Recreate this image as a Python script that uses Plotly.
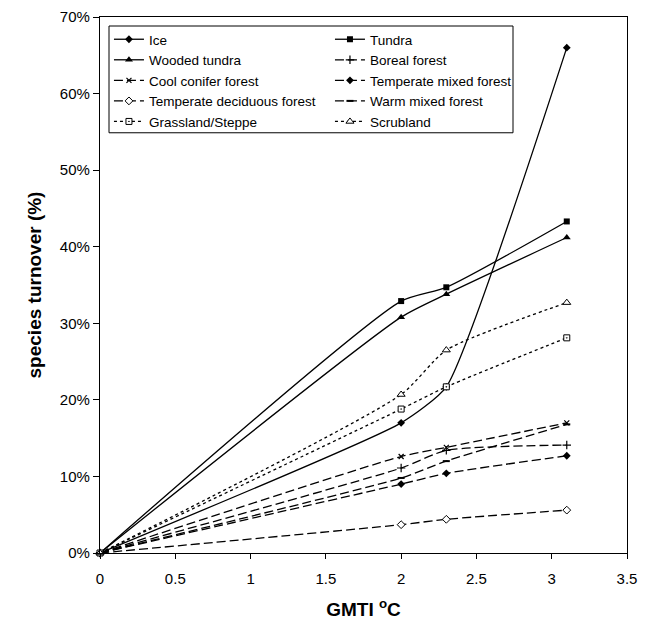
import plotly.graph_objects as go

x_vals = [0, 2, 2.3, 3.1]

series_names = ["Ice", "Tundra", "Wooded tundra", "Boreal forest",
                "Cool conifer forest", "Temperate mixed forest",
                "Temperate deciduous forest", "Warm mixed forest",
                "Grassland/Steppe", "Scrubland"]

ice = [0, 17.0, 21.7, 66.0]
tundra = [0, 32.9, 34.7, 43.3]
wooded_tundra = [0, 30.8, 33.8, 41.2]
boreal_forest = [0, 11.1, 13.4, 14.1]
cool_conifer_forest = [0, 12.6, 13.8, 17.0]
temperate_mixed_forest = [0, 9.0, 10.4, 12.7]
temperate_deciduous_forest = [0, 3.7, 4.4, 5.6]
warm_mixed_forest = [0, 9.8, 12.0, 16.8]
grassland_steppe = [0, 18.8, 21.7, 28.1]
scrubland = [0, 20.7, 26.5, 32.7]

values = [ice, tundra, wooded_tundra, boreal_forest, cool_conifer_forest,
          temperate_mixed_forest, temperate_deciduous_forest, warm_mixed_forest,
          grassland_steppe, scrubland]

LONG = "9px,4px"
DOT = "3px,3px"
styles = [
    dict(dash="solid", symbol="diamond", size=6, fill="black", lw=0, sm=0.5),
    dict(dash="solid", symbol="square", size=6, fill="black", lw=0, sm=0.6),
    dict(dash="solid", symbol="triangle-up", size=7, fill="black", lw=0, sm=0.6),
    dict(dash=LONG, symbol="cross-thin", size=6, fill="black", lw=1.2, sm=0.6),
    dict(dash=LONG, symbol="x-thin", size=5, fill="black", lw=1.2, sm=0.6),
    dict(dash=LONG, symbol="diamond", size=6, fill="black", lw=0, sm=0.6),
    dict(dash=LONG, symbol="diamond", size=6, fill="white", lw=1, sm=0.6),
    dict(dash=LONG, symbol="line-ew", size=5, fill="black", lw=2, sm=0.6),
    dict(dash=DOT, symbol="square-dot", size=6, fill="white", lw=1, sm=0.6),
    dict(dash=DOT, symbol="triangle-up", size=7, fill="white", lw=1, sm=0.6),
]

fig = go.Figure()
for name, ys, st in zip(series_names, values, styles):
    fig.add_trace(go.Scatter(
        x=x_vals, y=ys, name=name, mode="lines+markers",
        line=dict(color="black", width=1.3, dash=st["dash"], shape="spline", smoothing=st["sm"]),
        marker=dict(symbol=st["symbol"], size=st["size"], color=st["fill"],
                    line=dict(color="black", width=st["lw"])),
        cliponaxis=False,
    ))

font_family = "Liberation Sans, Arial, sans-serif"

# legend frame drawn as a shape (paper coordinates)
fig.add_shape(type="rect", xref="paper", yref="paper",
              x0=0.0171, x1=0.7837, y0=0.784, y1=0.9832,
              line=dict(color="black", width=1), fillcolor="white", layer="below")

fig.update_layout(
    width=638, height=612,
    margin=dict(l=92, r=19, t=9, b=67),
    paper_bgcolor="white", plot_bgcolor="white",
    font=dict(family=font_family, color="black", size=15),
    showlegend=True,
    legend=dict(
        orientation="h", x=0.017, y=0.987, xanchor="left", yanchor="top",
        bgcolor="rgba(0,0,0,0)", borderwidth=0,
        font=dict(size=13.5, family=font_family, color="black"),
        entrywidth=176, itemwidth=30, tracegroupgap=0,
    ),
    xaxis=dict(
        range=[0, 3.5], dtick=0.5, tick0=0, showgrid=False, zeroline=False,
        showline=True, linecolor="black", linewidth=1.3, mirror=True,
        ticks="outside", ticklen=5, tickcolor="black", tickwidth=1.3,
        tickfont=dict(size=15), automargin=False, ticklabelstandoff=7,
        ticklabeloverflow="allow",
        title=dict(text="GMTI <sup>o</sup>C", font=dict(size=19, family=font_family, weight="bold"), standoff=18),
    ),
    yaxis=dict(
        range=[0, 70], dtick=10, tick0=0, showgrid=False, zeroline=False,
        showline=True, linecolor="black", linewidth=1.3, mirror=True,
        ticks="outside", ticklen=6, tickcolor="black", tickwidth=1.3,
        ticksuffix="%", tickfont=dict(size=15), automargin=False,
        ticklabeloverflow="allow",
        title=dict(text="species turnover (%)", font=dict(size=19, family=font_family, weight="bold"), standoff=13),
    ),
)

fig.write_html("out.html")
